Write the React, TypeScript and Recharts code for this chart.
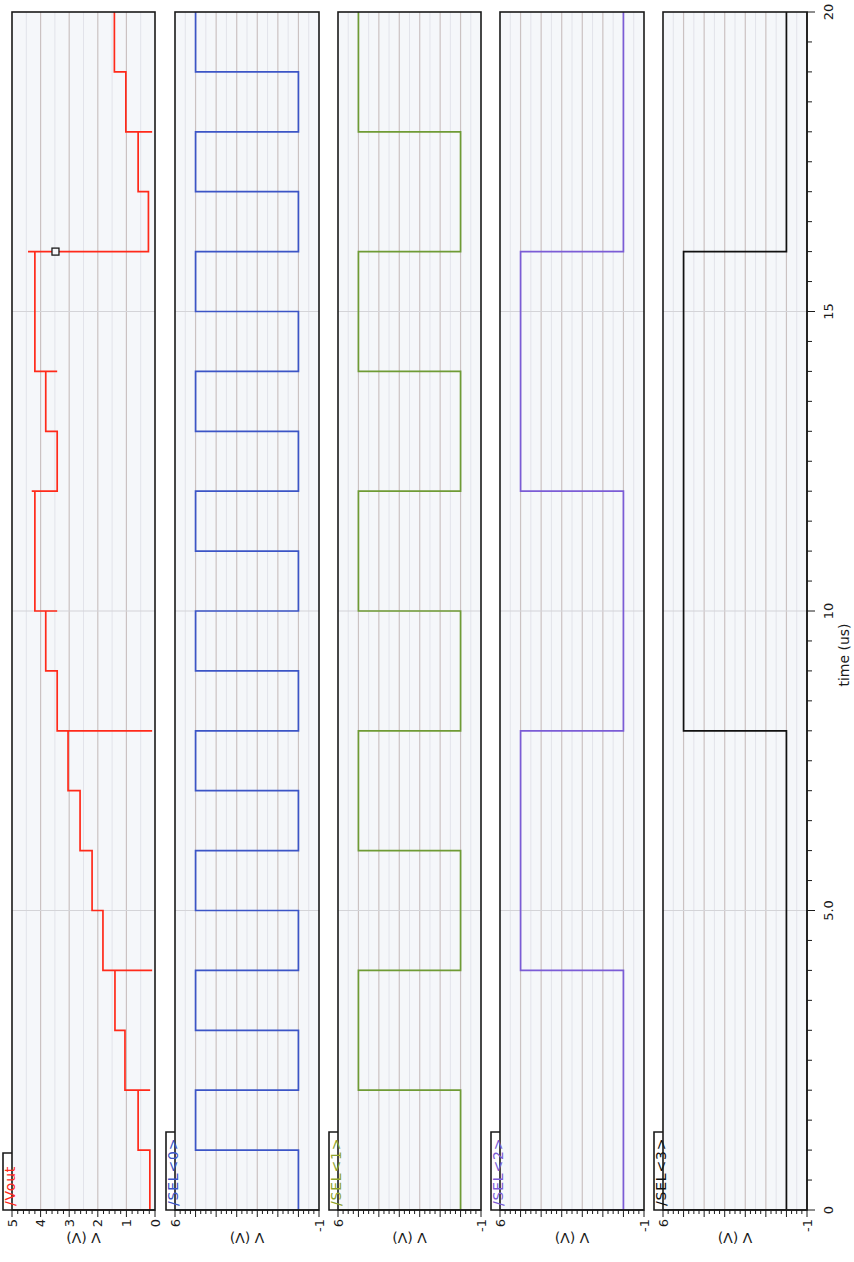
import React from 'react';
import { LineChart, Line, XAxis, YAxis, ReferenceLine, ReferenceDot, CartesianGrid } from 'recharts';

// ---------- data (one level per 1 µs interval, t = 0..20 µs) ----------
const TIME_MAJOR = [0, 5, 10, 15, 20];
const TIME_LABELS = ['0', '5.0', '10', '15', '20'];
const TIME_GRID = [5, 10, 15];

const VOUT_TICK_VALUES = [0, 1, 2, 3, 4, 5];
const VOUT_TICK_LABELS = ['0', '1', '2', '3', '4', '5'];
const SEL_TICK_VALUES = [-1, 6];
const SEL_TICK_LABELS = ['-1', '6'];

const VOUT_START = 5;
const VOUT_LEVELS = [0.18, 0.59, 1.05, 1.4, 1.82, 2.2, 2.62, 3.04, 3.42, 3.82, 4.2, 4.2, 3.42, 3.82, 4.2, 4.2, 0.23, 0.59, 1.02, 1.42];
const VOUT_GLITCH_TIMES = [2, 4, 8, 10, 12, 14, 16, 18];
const VOUT_GLITCH_VALUES = [0.17, 0.1, 0.1, 3.42, 4.31, 3.42, 4.44, 0.1];
const VOUT_MARKER_T = 16;
const VOUT_MARKER_V = 3.48;

const SEL_START = 6;
const SEL0_LEVELS = [0, 5, 0, 5, 0, 5, 0, 5, 0, 5, 0, 5, 0, 5, 0, 5, 0, 5, 0, 5];
const SEL1_LEVELS = [0, 0, 5, 5, 0, 0, 5, 5, 0, 0, 5, 5, 0, 0, 5, 5, 0, 0, 5, 5];
const SEL2_LEVELS = [0, 0, 0, 0, 5, 5, 5, 5, 0, 0, 0, 0, 5, 5, 5, 5, 0, 0, 0, 0];
const SEL3_LEVELS = [0, 0, 0, 0, 0, 0, 0, 0, 5, 5, 5, 5, 5, 5, 5, 5, 0, 0, 0, 0];

// ---------- helpers ----------
type Pt = { t: number; v: number };
function buildWave(start: number, levels: number[], gT: number[] = [], gV: number[] = []): Pt[] {
  const pts: Pt[] = [{ t: 0, v: start }, { t: 0, v: levels[0] }];
  for (let i = 1; i < levels.length; i++) {
    pts.push({ t: i, v: levels[i - 1] });
    const g = gT.indexOf(i);
    if (g >= 0) pts.push({ t: i, v: gV[g] });
    pts.push({ t: i, v: levels[i] });
  }
  pts.push({ t: levels.length, v: levels[levels.length - 1] });
  return pts;
}
function steps(a: number, b: number, s: number): number[] {
  const out: number[] = [];
  const n = Math.round((b - a) / s);
  for (let i = 0; i <= n; i++) out.push(Math.round((a + i * s) * 1000) / 1000);
  return out;
}

const FONT = "'DejaVu Sans', sans-serif";
const INK = '#1a1a1a';
const BG = '#f5f7fa';

const TIME_TICKS = steps(0, 20, 0.5);

const TimeTick = (props: any) => {
  const { x, y, payload } = props;
  const v = payload.value;
  const idx = TIME_MAJOR.indexOf(v);
  const major = idx >= 0;
  return (
    <g>
      <line x1={x} y1={y} x2={x} y2={y + (major ? 8 : 5)} stroke={INK} strokeWidth={1} />
      {major && (
        <text x={x} y={y + 21} textAnchor="middle" dominantBaseline="central" fontSize={13} fontFamily={FONT} fill={INK}>
          {TIME_LABELS[idx]}
        </text>
      )}
    </g>
  );
};

const makeValueTick = (vals: number[], texts: string[]) => (props: any) => {
  const { x, y, payload } = props;
  const v = payload.value;
  const major = Math.abs(v - Math.round(v)) < 1e-6;
  const idx = vals.findIndex((l) => Math.abs(l - v) < 1e-6);
  return (
    <g>
      <line x1={x} y1={y} x2={x - (major ? 7 : 4)} y2={y} stroke={INK} strokeWidth={1} />
      {idx >= 0 && (
        <text x={x - 9} y={y} textAnchor="end" dominantBaseline="central" fontSize={13} fontFamily={FONT} fill={INK}>
          {texts[idx]}
        </text>
      )}
    </g>
  );
};

type PanelCfg = {
  name: string;
  color: string;
  labelColor: string;
  top: number;
  bottom: number;
  tabRight: number;
  tabTop: number;
  domain: [number, number];
  ticks: number[];
  majorGrid: number[];
  minorGrid: number[];
  tickVals: number[];
  tickTexts: string[];
  data: Pt[];
  marker?: boolean;
};

const PANELS: PanelCfg[] = [
  {
    name: '/Vout', color: '#ff2a1a', labelColor: '#ff2a1a', top: 12, bottom: 155, tabRight: 109, tabTop: 3,
    domain: [0, 5], ticks: steps(0, 5, 0.2), majorGrid: [1, 2, 3, 4], minorGrid: steps(0.5, 4.5, 1),
    tickVals: VOUT_TICK_VALUES, tickTexts: VOUT_TICK_LABELS,
    data: buildWave(VOUT_START, VOUT_LEVELS, VOUT_GLITCH_TIMES, VOUT_GLITCH_VALUES), marker: true,
  },
  {
    name: '/SEL<0>', color: '#3c55c6', labelColor: '#3c55c6', top: 175, bottom: 319, tabRight: 130, tabTop: 166,
    domain: [-1, 6], ticks: steps(-1, 6, 0.25), majorGrid: [0, 1, 2, 3, 4, 5], minorGrid: steps(-0.5, 5.5, 1),
    tickVals: SEL_TICK_VALUES, tickTexts: SEL_TICK_LABELS, data: buildWave(SEL_START, SEL0_LEVELS),
  },
  {
    name: '/SEL<1>', color: '#6f9b35', labelColor: '#8fa32c', top: 338, bottom: 481, tabRight: 130, tabTop: 329,
    domain: [-1, 6], ticks: steps(-1, 6, 0.25), majorGrid: [0, 1, 2, 3, 4, 5], minorGrid: steps(-0.5, 5.5, 1),
    tickVals: SEL_TICK_VALUES, tickTexts: SEL_TICK_LABELS, data: buildWave(SEL_START, SEL1_LEVELS),
  },
  {
    name: '/SEL<2>', color: '#7b5cd6', labelColor: '#7b5cd6', top: 500, bottom: 644, tabRight: 130, tabTop: 491,
    domain: [-1, 6], ticks: steps(-1, 6, 0.25), majorGrid: [0, 1, 2, 3, 4, 5], minorGrid: steps(-0.5, 5.5, 1),
    tickVals: SEL_TICK_VALUES, tickTexts: SEL_TICK_LABELS, data: buildWave(SEL_START, SEL2_LEVELS),
  },
  {
    name: '/SEL<3>', color: '#111111', labelColor: '#111111', top: 663, bottom: 807, tabRight: 130, tabTop: 654,
    domain: [-1, 6], ticks: steps(-1, 6, 0.25), majorGrid: [0, 1, 2, 3, 4, 5], minorGrid: steps(-0.5, 5.5, 1),
    tickVals: SEL_TICK_VALUES, tickTexts: SEL_TICK_LABELS, data: buildWave(SEL_START, SEL3_LEVELS),
  },
];

const PLOT_LEFT = 52;
const PLOT_RIGHT = 1250;
const MT = 10;
const MB = 10;
const XAXIS_H = 45;

function Panel({ cfg, isBottom }: { cfg: PanelCfg; isBottom: boolean }) {
  const h = cfg.bottom - cfg.top;
  const mb = isBottom ? 2 : MB;
  const chartH = h + MT + mb + (isBottom ? XAXIS_H : 0);
  const ValueTick = makeValueTick(cfg.tickVals, cfg.tickTexts);
  return (
    <div style={{ position: 'absolute', left: 0, top: cfg.top - MT }}>
      <LineChart
        width={1262}
        height={chartH}
        data={cfg.data}
        margin={{ top: MT, right: 1262 - PLOT_RIGHT, bottom: mb, left: 0 }}
      >
        <CartesianGrid horizontal={false} vertical={false} fill={BG} stroke="none" />
        {cfg.minorGrid.map((v) => (
          <ReferenceLine key={'m' + v} y={v} stroke="#e2e3ea" strokeWidth={1} ifOverflow="hidden" />
        ))}
        {cfg.majorGrid.map((v) => (
          <ReferenceLine key={'M' + v} y={v} stroke="#cbc2c2" strokeWidth={1.2} ifOverflow="hidden" />
        ))}
        {TIME_GRID.map((t) => (
          <ReferenceLine key={'t' + t} x={t} stroke="#d4d4d8" strokeWidth={1.2} />
        ))}
        <XAxis
          type="number"
          dataKey="t"
          domain={[0, 20]}
          ticks={TIME_TICKS}
          interval={0}
          tickSize={0}
          tickMargin={0}
          tick={isBottom ? TimeTick : false}
          axisLine={isBottom ? { stroke: INK, strokeWidth: 1.5 } : false}
          tickLine={false}
          hide={!isBottom}
          height={isBottom ? XAXIS_H : 0}
          allowDataOverflow
        />
        <YAxis
          type="number"
          domain={cfg.domain}
          ticks={cfg.ticks}
          interval={0}
          tickSize={0}
          tickMargin={0}
          tick={ValueTick}
          tickLine={false}
          axisLine={false}
          width={PLOT_LEFT}
          allowDataOverflow
        />
        <Line
          type="linear"
          dataKey="v"
          stroke={cfg.color}
          strokeWidth={1.7}
          dot={false}
          isAnimationActive={false}
        />
        {cfg.marker && (
          <ReferenceDot
            x={VOUT_MARKER_T}
            y={VOUT_MARKER_V}
            r={3}
            shape={(p: any) => (
              <rect x={p.cx - 3.5} y={p.cy - 3.5} width={7} height={7} fill={BG} stroke={INK} strokeWidth={1.3} />
            )}
          />
        )}
      </LineChart>
    </div>
  );
}

function Overlay() {
  return (
    <svg
      width={1262}
      height={854}
      style={{ position: 'absolute', left: 0, top: 0, pointerEvents: 'none' }}
    >
      {PANELS.map((p) => (
        <g key={p.name}>
          <rect
            x={PLOT_LEFT}
            y={p.top}
            width={PLOT_RIGHT - PLOT_LEFT}
            height={p.bottom - p.top}
            fill="none"
            stroke={INK}
            strokeWidth={1.6}
          />
          <polyline
            points={`${PLOT_LEFT},${p.bottom} ${PLOT_LEFT},${p.tabTop} ${p.tabRight},${p.tabTop} ${p.tabRight},${p.top}`}
            fill="none"
            stroke={INK}
            strokeWidth={1.6}
          />
          <text x={PLOT_LEFT + 4} y={p.top + 3} fontSize={14} fontFamily={FONT} fill={p.labelColor} letterSpacing={0.8}>
            {p.name}
          </text>
          <text
            transform={`translate(24, ${(p.top + p.bottom) / 2}) rotate(-90)`}
            textAnchor="middle"
            dominantBaseline="central"
            fontSize={14}
            fontFamily={FONT}
            fill={INK}
          >
            V (V)
          </text>
        </g>
      ))}
      <text x={607} y={844} textAnchor="middle" dominantBaseline="central" fontSize={14} fontFamily={FONT} fill={INK}>
        time (us)
      </text>
    </svg>
  );
}

export default function App() {
  return (
    <div
      style={{
        position: 'fixed',
        left: 0,
        top: 0,
        width: 854,
        height: 1262,
        overflow: 'hidden',
        background: '#ffffff',
      }}
    >
      <div
        style={{
          position: 'absolute',
          left: 0,
          top: 0,
          width: 1262,
          height: 854,
          transform: 'translate(0px, 1262px) rotate(-90deg)',
          transformOrigin: '0 0',
        }}
      >
        {PANELS.map((p, i) => (
          <Panel key={p.name} cfg={p} isBottom={i === PANELS.length - 1} />
        ))}
        <Overlay />
      </div>
    </div>
  );
}
